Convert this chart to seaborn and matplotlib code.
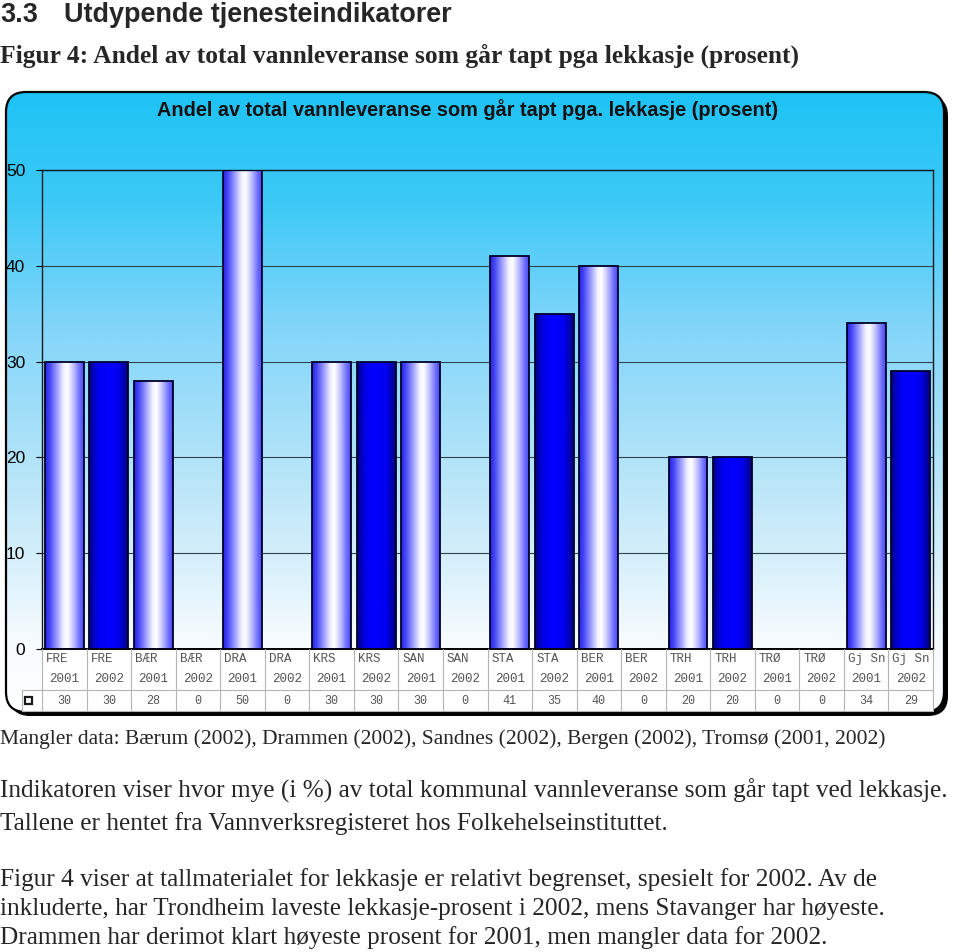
import numpy as np
import pandas as pd
import matplotlib
matplotlib.use("Agg")
import matplotlib.pyplot as plt
import seaborn as sns
import matplotlib.transforms as mtransforms
from matplotlib.patches import FancyBboxPatch, Rectangle
from matplotlib.colors import LinearSegmentedColormap
from matplotlib.lines import Line2D

# ---------------- data ----------------
municipalities = ["FRE", "FRE", "BÆR", "BÆR", "DRA", "DRA", "KRS", "KRS", "SAN", "SAN",
                  "STA", "STA", "BER", "BER", "TRH", "TRH", "TRØ", "TRØ", "Gj Sn", "Gj Sn"]
years = ["2001", "2002"] * 10
values = [30, 30, 28, 0, 50, 0, 30, 30, 30, 0, 41, 35, 40, 0, 20, 20, 0, 0, 34, 29]
y_ticks = [0, 10, 20, 30, 40, 50]

heading_num = "3.3"
heading = "Utdypende tjenesteindikatorer"
fig_caption = "Figur 4: Andel av total vannleveranse som går tapt pga lekkasje (prosent)"
chart_title = "Andel av total vannleveranse som går tapt pga. lekkasje (prosent)"
missing_note = "Mangler data: Bærum (2002), Drammen (2002), Sandnes (2002), Bergen (2002), Tromsø (2001, 2002)"
para1 = ["Indikatoren viser hvor mye (i %) av total kommunal vannleveranse som går tapt ved lekkasje.",
         "Tallene er hentet fra Vannverksregisteret hos Folkehelseinstituttet."]
para2 = ["Figur 4 viser at tallmaterialet for lekkasje er relativt begrenset, spesielt for 2002. Av de",
         "inkluderte, har Trondheim laveste lekkasje-prosent i 2002, mens Stavanger har høyeste.",
         "Drammen har derimot klart høyeste prosent for 2001, men mangler data for 2002."]

df = pd.DataFrame({
    "label": [f"{m}\n{y}#{i}" for i, (m, y) in enumerate(zip(municipalities, years))],
    "year": years,
    "value": values,
})

# ---------------- figure ----------------
sns.set_theme(style="white")
plt.rcParams["font.family"] = ["Liberation Sans", "DejaVu Sans"]

W, H = 960, 952
fig = plt.figure(figsize=(W / 100, H / 100), dpi=100)
fig.patch.set_facecolor("white")

bg = fig.add_axes([0, 0, 1, 1], zorder=0)
bg.set_xlim(0, W)
bg.set_ylim(H, 0)
bg.axis("off")

# rounded chart box with shadow and gradient
bx0, by0, bx1, by1 = 6, 92, 944, 712
shadow = FancyBboxPatch((bx0 + 4, by0 + 4), bx1 - bx0, by1 - by0,
                        boxstyle="round,pad=0,rounding_size=20", fc="black", ec="none", zorder=1)
bg.add_patch(shadow)
box_fill = FancyBboxPatch((bx0, by0), bx1 - bx0, by1 - by0,
                          boxstyle="round,pad=0,rounding_size=20", fc="white", ec="none", zorder=2)
bg.add_patch(box_fill)
ys = [92, 200, 330, 450, 550, 640, 712]
cols = ["#1ec3f5", "#3cc9f6", "#84d6fa", "#aee2f8", "#d2eefa", "#f6fbfe", "#ffffff"]
pos = [(y - 92) / (712 - 92) for y in ys]
bgcmap = LinearSegmentedColormap.from_list("bgc", list(zip(pos, cols)))
grad = np.linspace(0, 1, 512).reshape(-1, 1)
im = bg.imshow(grad, cmap=bgcmap, aspect="auto", origin="upper",
               extent=(bx0, bx1, by1, by0), zorder=3, interpolation="bilinear")
im.set_clip_path(box_fill)
box_edge = FancyBboxPatch((bx0, by0), bx1 - bx0, by1 - by0,
                          boxstyle="round,pad=0,rounding_size=20", fc="none", ec="black",
                          lw=1.6, zorder=4)
bg.add_patch(box_edge)
bg.set_xlim(0, W)
bg.set_ylim(H, 0)

renderer = fig.canvas.get_renderer()


def fit(x, y, s, width, **kw):
    t = bg.text(x, y, s, **kw)
    w = t.get_window_extent(renderer).width
    t.set_fontsize(t.get_fontsize() * width / w)
    return t


serif = ["Liberation Serif", "DejaVu Serif"]
th = fit(64, 15, heading, 388, fontsize=20, fontweight="bold", va="center", ha="left", zorder=5)
bg.text(0, 15, heading_num, fontsize=th.get_fontsize(), fontweight="bold", va="center",
        ha="left", zorder=5)
fit(0, 56, fig_caption, 800, fontsize=16, fontweight="bold", family=serif,
    va="center", ha="left", zorder=5)
fit(468, 110, chart_title, 622, fontsize=11, fontweight="bold", va="center", ha="center",
    zorder=5, color="#111111")
fit(0, 739, missing_note, 878, fontsize=13, family=serif, va="center", ha="left")
t1 = fit(0, 791, para1[0], 955, fontsize=15, family=serif, va="center", ha="left")
body_fs = t1.get_fontsize()
bg.text(0, 824, para1[1], fontsize=body_fs, family=serif, va="center", ha="left")
for yy, s in zip([880, 909, 938], para2):
    bg.text(0, yy, s, fontsize=body_fs, family=serif, va="center", ha="left")

# ---------------- plot axes ----------------
L, R, T, B = 42, 933, 170, 649
ax = fig.add_axes([L / W, 1 - B / H, (R - L) / W, (B - T) / H], zorder=5)
ax.patch.set_alpha(0)

palette = {"2001": "#4040ff", "2002": "#0000ff"}
sns.barplot(data=df, x="label", y="value", hue="year", palette=palette, dodge=False,
            width=0.87, ax=ax, legend=False, edgecolor="#00002a", linewidth=1.3,
            saturation=1, zorder=3)

cm2001 = LinearSegmentedColormap.from_list("c1", [
    (0.0, "#2424e0"), (0.12, "#4646f6"), (0.3, "#9a9aff"), (0.48, "#f2f2ff"),
    (0.58, "#ffffff"), (0.75, "#b8b8ff"), (0.9, "#6a6aff"), (1.0, "#4848f0")])
cm2002 = LinearSegmentedColormap.from_list("c2", [
    (0.0, "#00006e"), (0.1, "#0000b8"), (0.25, "#0000f0"), (0.5, "#0000ff"),
    (0.75, "#0000f0"), (0.9, "#0000b0"), (1.0, "#00007a")])
hgrad = np.linspace(0, 1, 256).reshape(1, -1)
for p in list(ax.patches):
    h = p.get_height()
    if h <= 0:
        p.set_visible(False)
        continue
    x0 = p.get_x()
    w = p.get_width()
    idx = int(round(x0 + w / 2))
    cmap = cm2001 if years[idx] == "2001" else cm2002
    gi = ax.imshow(hgrad, cmap=cmap, aspect="auto", extent=(x0, x0 + w, 0, h),
                   zorder=2.5, interpolation="bilinear")
    gi.set_clip_path(p)
    p.set_facecolor("none")
    p.set_zorder(3)

ax.set_xlim(-0.5, len(values) - 0.5)
ax.set_ylim(0, 50)
ax.set_yticks(y_ticks)
ax.set_yticklabels([str(v) for v in y_ticks], fontsize=12.5, color="black")
ax.tick_params(axis="y", length=4, width=0.8, color="black", pad=8, left=True)
ax.tick_params(axis="x", length=0, labelbottom=False)
ax.set_xlabel("")
ax.set_ylabel("")
ax.yaxis.grid(True, color="#2e4452", lw=0.8)
ax.xaxis.grid(False)
ax.set_axisbelow(True)
for sp in ax.spines.values():
    sp.set_visible(True)
    sp.set_color("#101820")
    sp.set_linewidth(1.0)
ax.spines["bottom"].set_linewidth(1.4)
ax.spines["bottom"].set_color("black")

# ---------------- data table under the axis ----------------
ph = B - T  # pixel height of axes


def ay(py):
    return (B - py) / ph


tr = mtransforms.blended_transform_factory(ax.transData, ax.transAxes)
bg.add_patch(Rectangle((L, B), R - L, 712 - B - 1, fc="white", ec="none", zorder=4.5))
bg.add_patch(Rectangle((22, 690), L - 22, 21, fc="white", ec="none", zorder=4.5))
n = len(values)
grid_c = "#b4b4b4"
for i in range(n + 1):
    ax.add_line(Line2D([i - 0.5, i - 0.5], [ay(649), ay(711)], transform=tr,
                       color=grid_c, lw=0.8, clip_on=False, zorder=4))
bg.add_line(Line2D([22, R], [690, 690], color=grid_c, lw=0.8, zorder=5))
bg.add_line(Line2D([22, R], [711, 711], color=grid_c, lw=0.8, zorder=5))
bg.add_line(Line2D([22, 22], [690, 711], color=grid_c, lw=0.8, zorder=5))
bg.add_patch(Rectangle((25, 697), 7, 7, fc="white", ec="#1a1a1a", lw=1.6, zorder=6))

name_tr = mtransforms.offset_copy(tr, fig=fig, x=4, y=0, units="dots")
mono = ["Liberation Mono", "DejaVu Sans Mono"]
for i, (m, y, v) in enumerate(zip(municipalities, years, values)):
    ax.text(i - 0.5, ay(659), m, transform=name_tr, ha="left", va="center",
            family=mono, fontsize=9, color="#555555", clip_on=False, zorder=6)
    ax.text(i, ay(679), y, transform=tr, ha="center", va="center",
            family=mono, fontsize=9, color="#555555", clip_on=False, zorder=6)
    ax.text(i, ay(701), str(v), transform=tr, ha="center", va="center",
            family=mono, fontsize=8.5, color="#555555", clip_on=False, zorder=6)

fig.savefig("out.png", dpi=100, facecolor="white")
